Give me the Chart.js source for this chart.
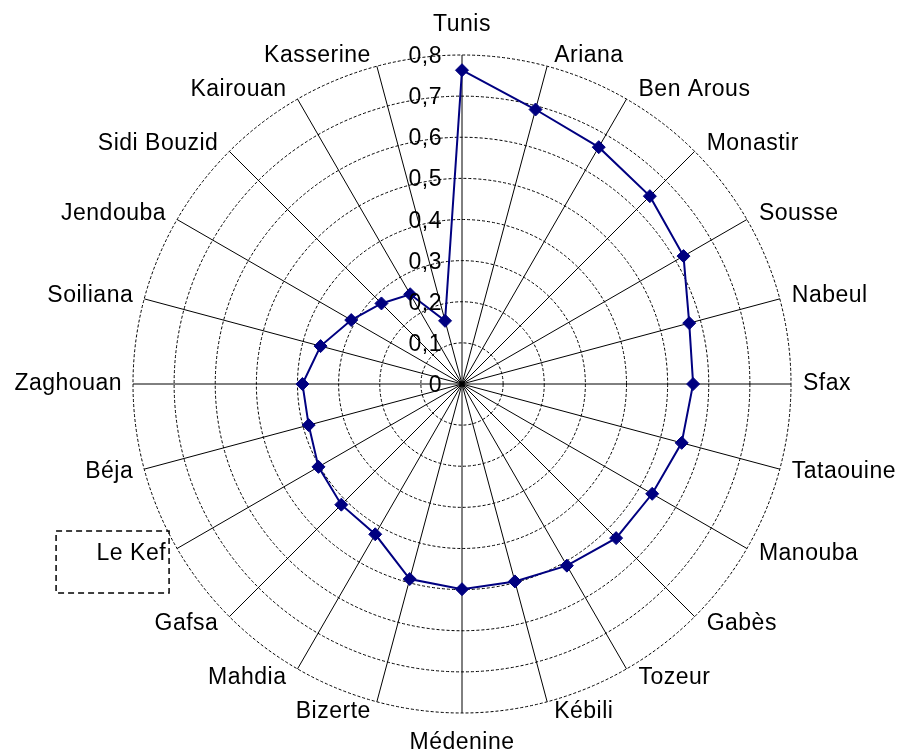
<!DOCTYPE html>
<html>
<head>
<meta charset="utf-8">
<title>Gouvernorats</title>
<script src="https://cdn.jsdelivr.net/npm/chart.js@4/dist/chart.umd.min.js"></script>
<style>
  html, body { margin: 0; padding: 0; background: #ffffff; }
  #wrap { width: 902px; height: 751px; position: relative; }
</style>
</head>
<body>
<div id="wrap"><canvas id="chart"></canvas></div>
<script>
// Governorates, clockwise from the top
const governorates = [
  'Tunis', 'Ariana', 'Ben Arous', 'Monastir', 'Sousse', 'Nabeul', 'Sfax',
  'Tataouine', 'Manouba', 'Gabès', 'Tozeur', 'Kébili', 'Médenine', 'Bizerte',
  'Mahdia', 'Gafsa', 'Le Kef', 'Béja', 'Zaghouan', 'Soiliana', 'Jendouba',
  'Sidi Bouzid', 'Kairouan', 'Kasserine'
];

// Index value per governorate
const indexValues = [
  0.763, 0.691, 0.665, 0.646, 0.622, 0.572, 0.562,
  0.553, 0.534, 0.530, 0.510, 0.497, 0.499, 0.491,
  0.422, 0.415, 0.403, 0.386, 0.388, 0.356, 0.311,
  0.277, 0.252, 0.159
];

// Radial tick labels (comma decimal separator)
const tickValues = [0, 0.1, 0.2, 0.3, 0.4, 0.5, 0.6, 0.7, 0.8];
const tickLabels = ['0', '0,1', '0,2', '0,3', '0,4', '0,5', '0,6', '0,7', '0,8'];

// Governorate that gets a dashed frame around its label
const framedLabel = 'Le Kef';

const FONT = '23px "Liberation Sans", Arial, sans-serif';

// Draws the radial tick labels and the category labels around the web
const labelPlugin = {
  id: 'radarLabels',
  afterDraw(chart) {
    const scale = chart.scales.r;
    const ctx = chart.ctx;
    const R = scale.drawingArea;
    const n = governorates.length;
    ctx.save();
    ctx.font = FONT;
    ctx.letterSpacing = '0.5px';
    ctx.fillStyle = '#000000';
    ctx.textBaseline = 'alphabetic';

    // tick labels to the left of the vertical axis
    ctx.textAlign = 'right';
    tickValues.forEach((v, i) => {
      const d = scale.getDistanceFromCenterForValue(v);
      ctx.fillText(tickLabels[i], scale.xCenter - 20, scale.yCenter - d + 8);
    });

    // category labels
    governorates.forEach((name, i) => {
      const p = scale.getPointPosition(i, R);
      const theta = (i / n) * Math.PI * 2;
      const s = Math.sin(theta), c = Math.cos(theta);
      let x, y;
      if (Math.abs(s) < 0.01) {
        ctx.textAlign = 'center';
        x = p.x;
        y = c > 0 ? p.y - 24 : p.y + 36;
      } else {
        ctx.textAlign = s > 0 ? 'left' : 'right';
        const gap = Math.abs(s) < 0.3 ? 7 : 12;
        x = p.x + (s > 0 ? gap : -gap + 1);
        y = p.y + 6 - 11 * c;
      }
      ctx.fillText(name, x, y);

      if (name === framedLabel) {
        ctx.save();
        ctx.strokeStyle = '#000000';
        ctx.lineWidth = 1.5;
        ctx.setLineDash([6, 4]);
        const right = s < 0 ? x + 3 : x + ctx.measureText(name).width + 3;
        ctx.strokeRect(right - 113, y - 29, 113, 62);
        ctx.restore();
      }
    });
    ctx.restore();
  }
};

new Chart(document.getElementById('chart'), {
  type: 'radar',
  data: {
    labels: governorates,
    datasets: [{
      data: indexValues,
      borderColor: '#000080',
      backgroundColor: '#000080',
      borderWidth: 2,
      fill: false,
      tension: 0,
      pointStyle: 'rectRot',
      pointRadius: 6.5,
      pointHoverRadius: 6.5,
      pointBackgroundColor: '#000080',
      pointBorderColor: '#000080',
      pointBorderWidth: 1
    }]
  },
  options: {
    responsive: true,
    maintainAspectRatio: false,
    animation: false,
    layout: { padding: { left: 133, right: 111, top: 55, bottom: 38 } },
    plugins: {
      legend: { display: false },
      title: { display: false },
      tooltip: { enabled: false }
    },
    scales: {
      r: {
        min: 0,
        max: 0.8,
        ticks: { display: false, stepSize: 0.1, showLabelBackdrop: false },
        pointLabels: { display: false },
        grid: { circular: true, color: '#000000', lineWidth: 1 },
        border: { dash: [3, 2] },
        angleLines: { display: true, color: '#000000', lineWidth: 1 }
      }
    }
  },
  plugins: [labelPlugin]
});
</script>
</body>
</html>
